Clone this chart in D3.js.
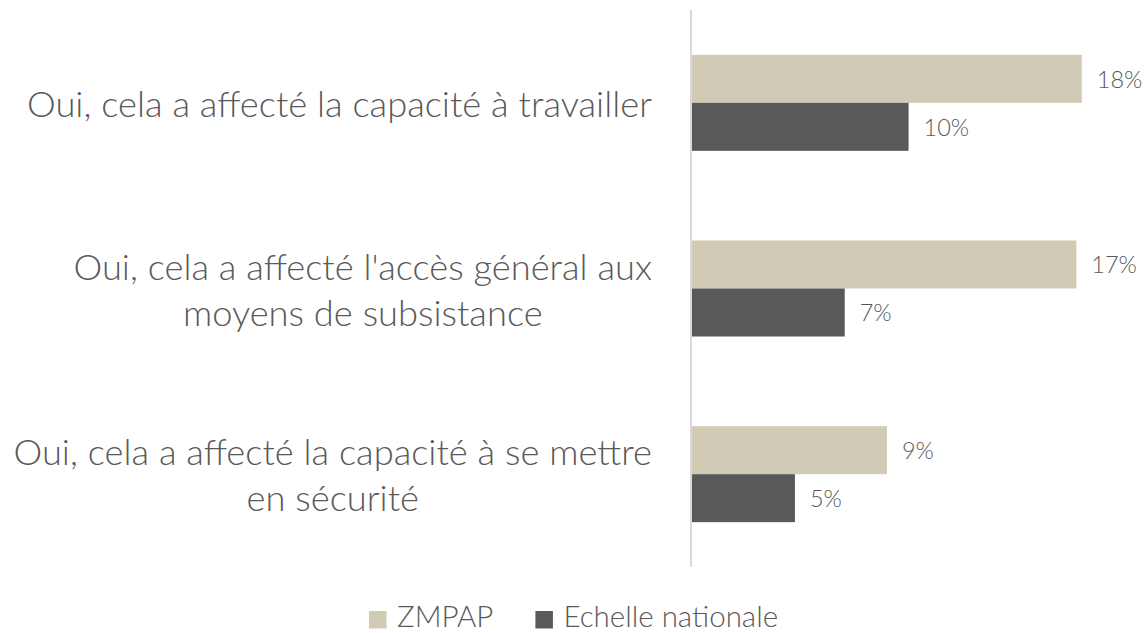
<!DOCTYPE html>
<html>
<head>
<meta charset="utf-8">
<script src="https://cdn.jsdelivr.net/npm/d3@7"></script>
<style>
    body { margin: 0; background: #fff; }
    svg text { font-family: "Lato", "Segoe UI", sans-serif; font-weight: 300; fill: #595959; }
</style>
</head>
<body>
<div id="chart"></div>
<script>
// Categories (label lines) and series values
const categories = [
    ['Oui, cela a affecté la capacité à travailler'],
    ["Oui, cela a affecté l'accès général aux", 'moyens de subsistance'],
    ['Oui, cela a affecté la capacité à se mettre', 'en sécurité']
];
const seriesNames = ['ZMPAP', 'Echelle nationale'];
const zmpapValues = [18.05, 17.8, 9.05];
const nationalValues = [10.05, 7.1, 4.8];
const zmpapLabels = ['18%', '17%', '9%'];
const nationalLabels = ['10%', '7%', '5%'];
const colors = ['#d1cab5', '#595959'];

const W = 1145, H = 633;
const margin = { top: 10, right: 21, bottom: 66, left: 691 };
const width = W - margin.left - margin.right;
const height = H - margin.top - margin.bottom;

const svg = d3.select('#chart').append('svg')
    .attr('width', W)
    .attr('height', H);

const g = svg.append('g')
    .attr('transform', `translate(${margin.left},${margin.top})`);

const x = d3.scaleLinear().domain([0, 20]).range([0, width]);

const y0 = d3.scaleBand()
    .domain(d3.range(categories.length))
    .range([0, height])
    .paddingInner(0.483)
    .paddingOuter(0.2415);

const y1 = d3.scaleBand()
    .domain(seriesNames)
    .range([0, y0.bandwidth()]);

const rows = categories.map((c, i) => ({
    i,
    bars: [
        { s: seriesNames[0], v: zmpapValues[i], label: zmpapLabels[i], color: colors[0] },
        { s: seriesNames[1], v: nationalValues[i], label: nationalLabels[i], color: colors[1] }
    ]
}));

const groups = g.selectAll('.group')
    .data(rows)
    .enter()
    .append('g')
    .attr('class', 'group')
    .attr('transform', d => `translate(0,${y0(d.i)})`);

groups.selectAll('rect')
    .data(d => d.bars)
    .enter()
    .append('rect')
    .attr('x', 0)
    .attr('y', d => y1(d.s))
    .attr('width', d => x(d.v))
    .attr('height', y1.bandwidth())
    .attr('fill', d => d.color);

// Value labels
groups.selectAll('.value-label')
    .data(d => d.bars)
    .enter()
    .append('text')
    .attr('class', 'value-label')
    .attr('x', d => x(d.v) + 15)
    .attr('y', d => y1(d.s) + y1.bandwidth() / 2)
    .attr('dominant-baseline', 'central')
    .style('font-size', '23.5px')
    .text(d => d.label);

// Vertical axis line
g.append('line')
    .attr('x1', 0)
    .attr('x2', 0)
    .attr('y1', 0)
    .attr('y2', height)
    .attr('stroke', '#d9d9d9')
    .attr('stroke-width', 2);

// Category labels: block right-aligned, lines centred inside the block
const labelRight = margin.left - 39;
const lineH = 46;
categories.forEach((lines, i) => {
    const cy = margin.top + y0(i) + y0.bandwidth() / 2;
    const t = svg.append('text')
        .style('font-size', '36.3px')
        .attr('text-anchor', 'middle');
    const spans = lines.map((line, j) => t.append('tspan')
        .attr('y', cy + (j - (lines.length - 1) / 2) * lineH)
        .attr('dominant-baseline', 'central')
        .text(line));
    const maxW = d3.max(spans, s => s.node().getComputedTextLength());
    spans.forEach(s => s.attr('x', labelRight - maxW / 2));
});

// Legend
const legend = svg.append('g').attr('transform', `translate(0,${H})`);
let lx = 369;
seriesNames.forEach((name, i) => {
    legend.append('rect')
        .attr('x', lx)
        .attr('y', -22)
        .attr('width', 17.5)
        .attr('height', 17.5)
        .attr('fill', colors[i]);
    const t = legend.append('text')
        .attr('x', lx + 28)
        .attr('y', -18)
        .attr('dominant-baseline', 'central')
        .style('font-size', '29.5px')
        .text(name);
    lx += 28 + t.node().getComputedTextLength() + 42;
});
</script>
</body>
</html>
